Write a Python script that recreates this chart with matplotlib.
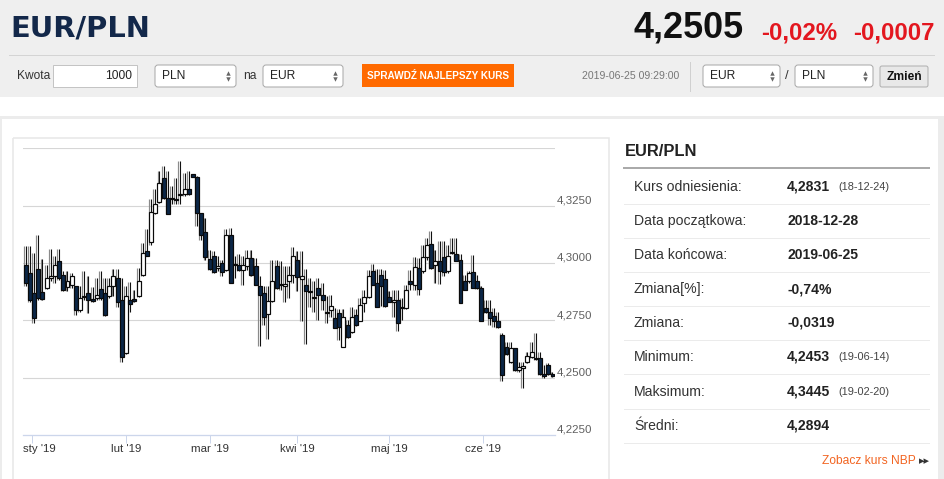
"""
EUR/PLN candlestick page, 2018-12-28 .. 2019-06-25
"""

import numpy as np
import pandas as pd
import matplotlib
matplotlib.use("Agg")
import matplotlib.pyplot as plt
import matplotlib.transforms as mtransforms
from matplotlib.patches import Rectangle, FancyBboxPatch

plt.rcParams["font.family"] = ["Liberation Sans", "DejaVu Sans"]

# daily OHLC
opens = [4.2993, 4.2956, 4.2869, 4.2974, 4.2872, 4.2891, 4.2934, 4.2942, 4.3007, 4.2949,
         4.2895, 4.2905, 4.2898, 4.2796, 4.2857, 4.2869, 4.2842, 4.2847, 4.2886, 4.2869,
         4.2854, 4.2898, 4.2934, 4.2839, 4.2609, 4.2839, 4.2842, 4.2854, 4.2949, 4.3054,
         4.3091, 4.3219, 4.3266, 4.3372, 4.3285, 4.3285, 4.3280, 4.3298, 4.3302, 4.3321,
         4.3387, 4.3377, 4.3219, 4.3134, 4.3018, 4.3032, 4.2978, 4.3000, 4.2971, 4.3124,
         4.2997, 4.2993, 4.2971, 4.2985, 4.3022, 4.2985, 4.2901, 4.2869, 4.2778, 4.2836,
         4.2985, 4.2908, 4.2901, 4.2920, 4.2949, 4.3012, 4.2930, 4.2905, 4.2877, 4.2851,
         4.2893, 4.2861, 4.2787, 4.2796, 4.2759, 4.2781, 4.2635, 4.2730, 4.2701, 4.2774,
         4.2749, 4.2825, 4.2851, 4.2964, 4.2912, 4.2949, 4.2930, 4.2850, 4.2832, 4.2839,
         4.2807, 4.2803, 4.2920, 4.2905, 4.2978, 4.2964, 4.3026, 4.3083, 4.2993, 4.3007,
         4.3026, 4.2964, 4.3042, 4.3039, 4.3015, 4.2920, 4.2920, 4.2959, 4.2923, 4.2893,
         4.2803, 4.2785, 4.2771, 4.2749, 4.2686, 4.2635, 4.2569, 4.2628, 4.2533, 4.2540,
         4.2569, 4.2591, 4.2587, 4.2587, 4.2514, 4.2555, 4.2514]
highs = [4.3073, 4.3073, 4.3044, 4.3120, 4.3018, 4.2993, 4.3061, 4.3029, 4.3061, 4.2966,
         4.2964, 4.2956, 4.2901, 4.2898, 4.2964, 4.2942, 4.2895, 4.2934, 4.2964, 4.2934,
         4.2934, 4.2974, 4.2974, 4.2934, 4.2898, 4.2915, 4.2883, 4.2978, 4.3088, 4.3146,
         4.3280, 4.3321, 4.3402, 4.3423, 4.3402, 4.3336, 4.3372, 4.3445, 4.3394, 4.3402,
         4.3390, 4.3380, 4.3219, 4.3197, 4.3058, 4.3051, 4.3029, 4.3015, 4.3149, 4.3153,
         4.3029, 4.3037, 4.3029, 4.3058, 4.3058, 4.3022, 4.2945, 4.2898, 4.2898, 4.3015,
         4.3015, 4.3007, 4.2985, 4.2985, 4.3070, 4.3051, 4.3051, 4.2974, 4.2934, 4.2920,
         4.2934, 4.2912, 4.2854, 4.2861, 4.2803, 4.2799, 4.2799, 4.2752, 4.2807, 4.2799,
         4.2847, 4.2883, 4.2971, 4.2997, 4.2974, 4.2974, 4.2971, 4.2876, 4.2883, 4.2883,
         4.2847, 4.2905, 4.2971, 4.3026, 4.3022, 4.3080, 4.3110, 4.3139, 4.3058, 4.3095,
         4.3098, 4.3080, 4.3110, 4.3110, 4.3037, 4.2949, 4.2966, 4.3034, 4.2949, 4.2898,
         4.2839, 4.2839, 4.2803, 4.2785, 4.2693, 4.2657, 4.2657, 4.2631, 4.2569, 4.2569,
         4.2613, 4.2657, 4.2695, 4.2613, 4.2555, 4.2566, 4.2525]
lows = [4.2898, 4.2832, 4.2737, 4.2839, 4.2839, 4.2886, 4.2920, 4.2912, 4.2927, 4.2876,
        4.2876, 4.2891, 4.2774, 4.2788, 4.2839, 4.2784, 4.2832, 4.2839, 4.2839, 4.2771,
        4.2847, 4.2854, 4.2810, 4.2569, 4.2603, 4.2788, 4.2832, 4.2851, 4.2942, 4.3029,
        4.3080, 4.3212, 4.3263, 4.3277, 4.3212, 4.3256, 4.3256, 4.3256, 4.3292, 4.3295,
        4.3377, 4.3161, 4.3102, 4.3015, 4.2968, 4.2956, 4.2964, 4.2942, 4.2964, 4.2912,
        4.2934, 4.2964, 4.2905, 4.2971, 4.2945, 4.2905, 4.2638, 4.2730, 4.2667, 4.2828,
        4.2886, 4.2883, 4.2828, 4.2847, 4.2912, 4.2876, 4.2745, 4.2647, 4.2810, 4.2788,
        4.2752, 4.2796, 4.2737, 4.2766, 4.2715, 4.2665, 4.2632, 4.2672, 4.2693, 4.2726,
        4.2745, 4.2788, 4.2847, 4.2905, 4.2807, 4.2813, 4.2810, 4.2828, 4.2766, 4.2705,
        4.2752, 4.2799, 4.2883, 4.2883, 4.2861, 4.2956, 4.3015, 4.2975, 4.2912, 4.2908,
        4.2942, 4.2956, 4.3039, 4.3007, 4.2825, 4.2883, 4.2912, 4.2891, 4.2888, 4.2745,
        4.2781, 4.2730, 4.2723, 4.2718, 4.2485, 4.2599, 4.2566, 4.2528, 4.2526, 4.2455,
        4.2566, 4.2584, 4.2577, 4.2511, 4.2499, 4.2511, 4.2504]
closes = [4.2912, 4.2839, 4.2759, 4.2847, 4.2842, 4.2934, 4.2945, 4.2993, 4.2934, 4.2883,
          4.2920, 4.2942, 4.2796, 4.2847, 4.2851, 4.2839, 4.2836, 4.2861, 4.2847, 4.2774,
          4.2898, 4.2945, 4.2832, 4.2591, 4.2854, 4.2822, 4.2836, 4.2923, 4.3044, 4.3032,
          4.3222, 4.3258, 4.3350, 4.3285, 4.3212, 4.3280, 4.3274, 4.3302, 4.3324, 4.3299,
          4.3377, 4.3216, 4.3124, 4.3026, 4.2974, 4.2959, 4.2985, 4.2959, 4.3120, 4.2912,
          4.2993, 4.2968, 4.2993, 4.3022, 4.2949, 4.2905, 4.2861, 4.2766, 4.2836, 4.2920,
          4.2891, 4.2902, 4.2909, 4.2949, 4.3029, 4.2939, 4.2945, 4.2876, 4.2874, 4.2848,
          4.2861, 4.2839, 4.2784, 4.2813, 4.2715, 4.2723, 4.2766, 4.2676, 4.2766, 4.2730,
          4.2818, 4.2851, 4.2942, 4.2905, 4.2810, 4.2898, 4.2813, 4.2832, 4.2839, 4.2737,
          4.2803, 4.2883, 4.2909, 4.2982, 4.2888, 4.3026, 4.3077, 4.2978, 4.3010, 4.2964,
          4.2961, 4.3029, 4.3048, 4.3010, 4.2825, 4.2883, 4.2956, 4.2893, 4.2893, 4.2745,
          4.2785, 4.2762, 4.2745, 4.2721, 4.2511, 4.2601, 4.2628, 4.2533, 4.2547, 4.2552,
          4.2596, 4.2613, 4.2581, 4.2518, 4.2507, 4.2515, 4.2507]

month_labels = ["sty '19", "lut '19", "mar '19", "kwi '19", "maj '19", "cze '19"]
y_ticks = [4.225, 4.25, 4.275, 4.30, 4.325]
y_labels = ["4,2250", "4,2500", "4,2750", "4,3000", "4,3250"]

stat_labels = ["Kurs odniesienia:", "Data początkowa:", "Data końcowa:", "Zmiana[%]:",
               "Zmiana:", "Minimum:", "Maksimum:", "Średni:"]
stat_values = ["4,2831", "2018-12-28", "2019-06-25", "-0,74%", "-0,0319",
               "4,2453", "4,3445", "4,2894"]
stat_dates = ["(18-12-24)", "", "", "", "", "(19-06-14)", "(19-02-20)", ""]

W, H = 945, 479
PT = 0.72  # px -> pt

fig = plt.figure(figsize=(W / 100, H / 100), dpi=100, facecolor="white")

# page chrome in pixel coordinates
bg = fig.add_axes([0, 0, 1, 1])
bg.set_xlim(0, W)
bg.set_ylim(H, 0)
bg.axis("off")

bg.add_patch(Rectangle((0, 0), W, 96.7, fc="#efefef", ec="none"))
bg.add_patch(Rectangle((0, 116), W, 3, fc="#ececec", ec="none"))
bg.add_patch(Rectangle((0, 116), 2.3, H, fc="#ececec", ec="none"))
bg.add_patch(Rectangle((938, 116), 7, H, fc="#ececec", ec="none"))
bg.plot([9, 934], [55, 55], color="#d4d4d4", lw=1 * PT)
bg.add_patch(Rectangle((13.3, 138.3), 596, 360, fill=False, ec="#e8e8e8", lw=1.6 * PT))

# header
bg.text(10, 36.7, "EUR/PLN", family="DejaVu Sans", fontweight="bold",
        fontsize=29 * PT, color="#13284a", va="baseline")
bg.text(744, 37.3, "4,2505", fontweight="bold", fontsize=36 * PT,
        color="#111111", ha="right", va="baseline")
bg.text(837, 39, "-0,02%", fontweight="bold", fontsize=24 * PT,
        color="#e3171f", ha="right", va="baseline")
bg.text(934, 39, "-0,0007", fontweight="bold", fontsize=24 * PT,
        color="#e3171f", ha="right", va="baseline")

# controls row
ROW_Y = 76


def select_box(x0, x1, label):
    bg.add_patch(FancyBboxPatch((x0, 65), x1 - x0, 22,
                                boxstyle="round,pad=0,rounding_size=3",
                                fc="white", ec="#a9a9a9", lw=1 * PT))
    bg.text(x0 + 7, ROW_Y, label, fontsize=12 * PT, color="#222", va="center")
    bg.plot([x1 - 8], [ROW_Y - 3], marker="^", ms=3.2, color="#666", mec="none")
    bg.plot([x1 - 8], [ROW_Y + 3], marker="v", ms=3.2, color="#666", mec="none")


bg.text(17, ROW_Y, "Kwota", fontsize=12 * PT, color="#333", va="center")
bg.add_patch(Rectangle((53, 65), 84, 22, fc="white", ec="#c4c4c4", lw=1 * PT))
bg.text(132.5, ROW_Y, "1000", fontsize=12 * PT, color="#222", va="center", ha="right")
select_box(155, 236, "PLN")
bg.text(243, ROW_Y, "na", fontsize=12 * PT, color="#333", va="center")
select_box(263, 343, "EUR")
bg.add_patch(Rectangle((362, 64), 152, 23, fc="#ff6a00", ec="none"))
bg.text(438, ROW_Y - 0.5, "SPRAWDŹ NAJLEPSZY KURS", fontsize=10 * PT,
        fontweight="bold", color="white", ha="center", va="center")
bg.text(679, ROW_Y, "2019-06-25 09:29:00", fontsize=10.5 * PT, color="#777",
        ha="right", va="center")
bg.plot([690, 690], [62, 91], color="#d0d0d0", lw=1 * PT)
select_box(703, 780, "EUR")
bg.text(786.5, ROW_Y, "/", fontsize=13 * PT, color="#333", va="center", ha="center")
select_box(795, 873, "PLN")
bg.add_patch(FancyBboxPatch((880, 66), 48, 21, boxstyle="round,pad=0,rounding_size=2",
                            fc="#e8e8e8", ec="#b0b0b0", lw=1 * PT))
bg.text(904, ROW_Y + 0.5, "Zmień", fontsize=12 * PT, fontweight="bold",
        color="#111", ha="center", va="center")

# stats panel
bg.text(625, 151, "EUR/PLN", fontsize=16.5 * PT, fontweight="bold", color="#222", va="center")
bg.plot([624, 929], [167.7, 167.7], color="#aaaaaa", lw=2 * PT)
row_y = [186.7, 220.7, 255, 289, 322.7, 356.7, 391.7, 426]
for yy, lab, val, dt in zip(row_y, stat_labels, stat_values, stat_dates):
    bg.text(634, yy, lab, fontsize=14 * PT, color="#333", va="center")
    bg.text(787, yy, val, fontsize=14 * PT, fontweight="bold", color="#222", va="center")
    if dt:
        bg.text(838, yy + 0.5, dt, fontsize=11 * PT, color="#444", va="center")
    bg.plot([624, 929], [yy + 17, yy + 17], color="#ebebeb", lw=1 * PT)
bg.text(916, 461, "Zobacz kurs NBP", fontsize=12 * PT, color="#f26522",
        ha="right", va="center")
bg.text(919, 461.5, "▸▸", family="DejaVu Sans", fontsize=11 * PT, color="#333",
        va="center", ha="left")

# candlestick chart
ax = fig.add_axes([23.3 / W, (H - 435) / H, (555 - 23.3) / W, (435 - 148.3) / H])
ax.set_facecolor("none")
ax.set_xlim(-0.57, 126.6)
ax.set_ylim(4.225, 4.35)
for s in ax.spines.values():
    s.set_visible(False)

for v in y_ticks[1:] + [4.35]:
    ax.axhline(v, color="#d6d6d6", lw=1.1 * PT, zorder=0)
ax.axhline(4.225, color="#ccd6eb", lw=1.3 * PT, zorder=1, clip_on=False)

o = np.array(opens)
h = np.array(highs)
l = np.array(lows)
c = np.array(closes)
x = np.arange(len(o))

ax.vlines(x - 0.45, l, h, color="#8a8a8a", lw=1.2 * PT, zorder=2)
ax.vlines(x, l, h, color="#111111", lw=1.1 * PT, zorder=3)
up = c >= o
body_h = np.maximum(np.abs(c - o), 0.0001)
ax.bar(x, body_h, bottom=np.minimum(o, c), width=0.95,
       color=np.where(up, "white", "#0b2647"), edgecolor="#0a0a0a",
       linewidth=1.2 * PT, zorder=4)

# month ticks on trading-day axis
dates = pd.bdate_range("2018-12-28", "2019-06-25")
dates = dates[dates != pd.Timestamp("2019-01-01")]
month_starts = pd.date_range("2019-01-01", "2019-06-01", freq="MS")
tick_pos = np.interp(month_starts.asi8, dates.asi8, x)
ax.set_xticks(tick_pos)
ax.set_xticklabels([])
ax.set_yticks([])
ax.tick_params(axis="x", length=8 * PT, width=1 * PT, color="#ccd6eb")
for i, (pos, lab) in enumerate(zip(tick_pos, month_labels)):
    dx = -8.5 if i == 0 else 0
    tr = mtransforms.offset_copy(ax.get_xaxis_transform(), fig=fig,
                                 x=dx * PT, y=-9.5 * PT, units="points")
    ax.text(pos, 0, lab, transform=tr, fontsize=11.5 * PT, color="#333",
            ha="left" if i == 0 else "center", va="top")

for v, lab in zip(y_ticks, y_labels):
    tr = mtransforms.offset_copy(ax.get_yaxis_transform(), fig=fig,
                                 x=2 * PT, y=2.3 * PT, units="points")
    ax.text(1.0, v, lab, transform=tr, fontsize=11.5 * PT, color="#606060",
            ha="left", va="baseline", clip_on=False)

fig.savefig("out.png", dpi=100, facecolor="white")
